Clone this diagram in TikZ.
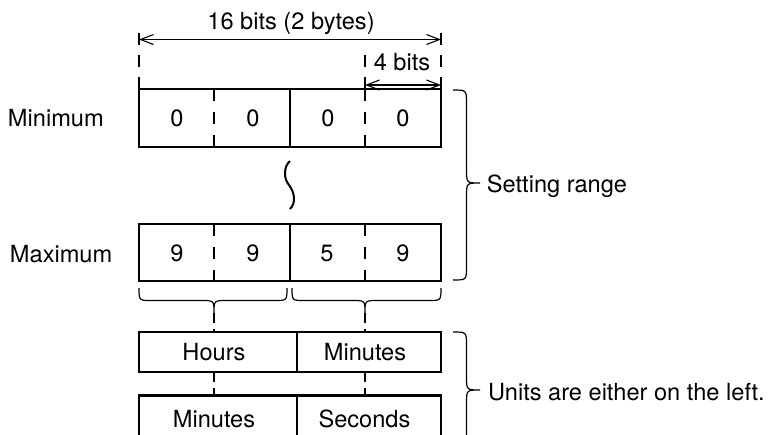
\documentclass[tikz,border=0pt]{standalone}
\usepackage{fontspec}
\setmainfont{TeX Gyre Heros}
\usetikzlibrary{arrows.meta}
\begin{document}
\begin{tikzpicture}[x=0.5pt,y=-0.5pt,
  every node/.style={font=\fontsize{11.8}{14}\selectfont, inner sep=0pt, outer sep=0pt},
  lbl/.style={anchor=base},
  lblw/.style={anchor=base west},
  dim/.style={line width=0.55pt,{Straight Barb[length=6.5pt,width=5pt]}-{Straight Barb[length=6.5pt,width=5pt]}},
  ext/.style={line width=0.55pt, dash pattern=on 5.75pt off 5.25pt},
  frame/.style={draw, line width=1.2pt, minimum width=151pt},
  divider/.style={line width=0.55pt},
  dashdiv/.style={line width=0.55pt, dash pattern=on 5.8pt off 5.8pt},
  link/.style={line width=0.55pt, dash pattern=on 5pt off 3pt},
  brc/.style={line width=0.6pt},
]
\useasboundingbox (0,0) rectangle (768,435);

% dimension lines
\coordinate (dL) at (139,39.5);
\coordinate (dR) at (441,39.5);
\draw[dim] (dL) -- (dR);
\node[lbl] (t16) at (291,29.5) {16 bits (2 bytes)};
\draw[ext] (139,33) -- (139,89);
\draw[ext] (441,33) -- (441,89);
\draw[ext] (365,55) -- (365,89);
\coordinate (fL) at (365,85);
\coordinate (fR) at (441,85);
\draw[dim] (fL) -- (fR);
\node[lbl] (t4) at (402,70) {4 bits};

% minimum box
\node[frame, minimum height=29pt] (minbox) at (290,118) {};
\draw[dashdiv] (214,89) -- (214,147);
\draw[divider] (290,89) -- (290,147);
\draw[dashdiv] (365,89) -- (365,147);
\node[lblw] (lmin) at (8,126) {Minimum};
\node[lbl] (a1) at (177,126) {0};
\node[lbl] (a2) at (253,126) {0};
\node[lbl] (a3) at (328,126) {0};
\node[lbl] (a4) at (403,126) {0};

% squiggle
\draw[line width=1pt] (290,161) .. controls (284,166) and (283,178) .. (289,185)
  .. controls (295,193) and (296,203) .. (290,209);

% maximum box
\node[frame, minimum height=28.5pt] (maxbox) at (290,252.5) {};
\draw[dashdiv] (214,224) -- (214,281);
\draw[divider] (290,224) -- (290,281);
\draw[dashdiv] (365,224) -- (365,281);
\node[lblw] (lmax) at (10,262) {Maximum};
\node[lbl] (b1) at (177,261) {9};
\node[lbl] (b2) at (253,261) {9};
\node[lbl] (b3) at (327,261) {5};
\node[lbl] (b4) at (403,261) {9};

% under braces
\draw[brc] (139,288) .. controls (139,300.5) .. (151.5,300.5) -- (201.5,300.5)
  .. controls (214,300.5) .. (214,313) .. controls (214,300.5) .. (226.5,300.5)
  -- (274.5,300.5) .. controls (287,300.5) .. (287,288);
\draw[brc] (292,288) .. controls (292,300.5) .. (304.5,300.5) -- (352.5,300.5)
  .. controls (365,300.5) .. (365,313) .. controls (365,300.5) .. (377.5,300.5)
  -- (428.5,300.5) .. controls (441,300.5) .. (441,288);
\coordinate (tipA) at (214,313);
\coordinate (tipB) at (365,313);

% unit boxes
\node[frame, minimum height=20pt] (hm) at (290,352) {};
\draw[divider] (297,332) -- (297,372);
\node[lbl] (hrs) at (214,360) {Hours};
\node[lbl] (mn1) at (365,360) {Minutes};

\node[frame, minimum height=22.5pt] (ms) at (290,418) {};
\draw[divider] (297,395) -- (297,441);
\node[lbl] (mn2) at (214,427) {Minutes};
\node[lbl] (sec) at (364.5,427) {Seconds};

\draw[link] (tipA) -- (hm.north -| tipA);
\draw[link] (tipB) -- (hm.north -| tipB);
\draw[link] (hm.south -| tipA) -- (ms.north -| tipA);
\draw[link] (hm.south -| tipB) -- (ms.north -| tipB);

% side braces
\draw[brc] (453,90) .. controls (466.5,90) .. (466.5,103.5) -- (466.5,169.5)
  .. controls (466.5,183) .. (480,183) .. controls (466.5,183) .. (466.5,196.5)
  -- (466.5,266.5) .. controls (466.5,280) .. (453,280);
\node[lblw] (srange) at (487,192) {Setting range};

\draw[brc] (453,332) .. controls (466.5,332) .. (466.5,345.5) -- (466.5,376.5)
  .. controls (466.5,390) .. (480,390) .. controls (466.5,390) .. (466.5,403.5)
  -- (466.5,434.5) .. controls (466.5,448) .. (453,448);
\node[lblw] (units) at (488,400) {Units are either on the left.};
\end{tikzpicture}
\end{document}
